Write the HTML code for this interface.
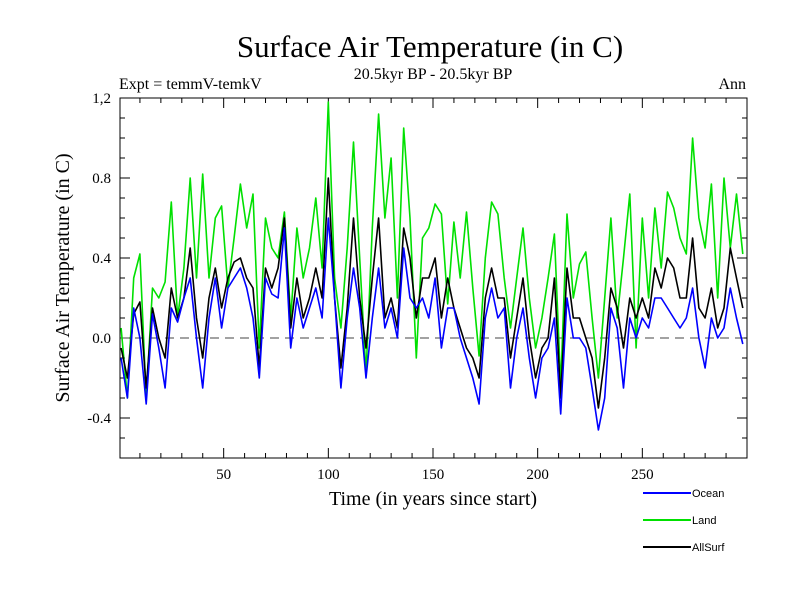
<!DOCTYPE html>
<html><head><meta charset="utf-8"><style>
body{margin:0;background:#fff}
svg{display:block}
</style></head><body>
<svg id="chart" width="800" height="600" xmlns="http://www.w3.org/2000/svg">
<rect width="800" height="600" fill="#fff"/>
<text x="430" y="57" font-family="Liberation Serif, serif" font-size="31" text-anchor="middle">Surface Air Temperature (in C)</text>
<text x="433" y="79" font-family="Liberation Serif, serif" font-size="16" text-anchor="middle">20.5kyr BP - 20.5kyr BP</text>
<text x="119" y="89" font-family="Liberation Serif, serif" font-size="16">Expt = temmV-temkV</text>
<text x="746" y="89" font-family="Liberation Serif, serif" font-size="16" text-anchor="end">Ann</text>
<text transform="translate(69,278) rotate(-90)" font-family="Liberation Serif, serif" font-size="20" text-anchor="middle">Surface Air Temperature (in C)</text>
<text x="433" y="505" font-family="Liberation Serif, serif" font-size="20" text-anchor="middle">Time (in years since start)</text>
<g id="axes"></g>
<g id="series"></g>
<rect x="120" y="98" width="627" height="360" fill="none" stroke="#000" stroke-width="1"/>
<g id="legend"></g>
</svg>
<script>
const years = [1,4,7,10,13,16,19,22,25,28,31,34,37,40,43,46,49,52,55,58,61,64,67,70,73,76,79,82,85,88,91,94,97,100,103,106,109,112,115,118,121,124,127,130,133,136,139,142,145,148,151,154,157,160,163,166,169,172,175,178,181,184,187,190,193,196,199,202,205,208,211,214,217,220,223,226,229,232,235,238,241,244,247,250,253,256,259,262,265,268,271,274,277,280,283,286,289,292,295,298];
const land = [0.05,-0.3,0.3,0.42,-0.3,0.25,0.2,0.28,0.68,0.1,0.35,0.8,0.3,0.82,0.3,0.6,0.66,0.25,0.5,0.77,0.55,0.72,-0.05,0.6,0.45,0.4,0.63,0.1,0.55,0.3,0.45,0.7,0.35,1.18,0.3,0.05,0.45,0.98,0.4,-0.18,0.55,1.12,0.6,0.9,0.2,1.05,0.6,-0.1,0.5,0.55,0.67,0.62,0.17,0.58,0.3,0.63,0.25,-0.09,0.4,0.68,0.62,0.3,0.05,0.3,0.55,0.2,-0.05,0.1,0.3,0.52,-0.24,0.62,0.2,0.37,0.43,0.1,-0.2,0.2,0.6,0.1,0.4,0.72,-0.05,0.6,0.2,0.65,0.35,0.73,0.65,0.5,0.42,1.0,0.6,0.45,0.77,0.2,0.8,0.45,0.72,0.42];
const ocean = [-0.1,-0.3,0.15,0.0,-0.33,0.12,-0.05,-0.25,0.15,0.08,0.2,0.3,0.0,-0.25,0.1,0.3,0.05,0.25,0.3,0.35,0.25,0.1,-0.2,0.3,0.22,0.2,0.55,-0.05,0.2,0.05,0.15,0.25,0.1,0.6,0.2,-0.25,0.1,0.35,0.15,-0.2,0.1,0.35,0.05,0.15,0.0,0.45,0.2,0.15,0.2,0.1,0.3,-0.05,0.15,0.15,0.0,-0.1,-0.2,-0.33,0.1,0.25,0.1,0.15,-0.25,0.0,0.15,-0.1,-0.3,-0.1,-0.05,0.1,-0.38,0.2,0.0,0.0,-0.05,-0.25,-0.46,-0.3,0.15,0.05,-0.25,0.1,0.0,0.1,0.05,0.2,0.2,0.15,0.1,0.05,0.1,0.25,0.0,-0.15,0.1,0.0,0.05,0.25,0.1,-0.03];
const allsurf = [-0.05,-0.2,0.12,0.18,-0.25,0.15,0.0,-0.1,0.25,0.1,0.2,0.45,0.1,-0.1,0.2,0.35,0.15,0.3,0.38,0.4,0.3,0.25,-0.15,0.35,0.25,0.35,0.6,0.05,0.3,0.1,0.2,0.35,0.2,0.8,0.2,-0.15,0.15,0.6,0.2,-0.05,0.3,0.6,0.1,0.2,0.05,0.55,0.4,0.1,0.3,0.3,0.4,0.1,0.3,0.15,0.05,-0.05,-0.1,-0.2,0.2,0.35,0.2,0.2,-0.1,0.1,0.3,0.0,-0.2,-0.05,0.0,0.3,-0.3,0.35,0.1,0.1,0.0,-0.1,-0.35,-0.1,0.25,0.15,-0.05,0.2,0.1,0.2,0.1,0.35,0.25,0.4,0.35,0.2,0.2,0.5,0.15,0.1,0.25,0.05,0.15,0.45,0.3,0.15];
const xTicks = [50,100,150,200,250];
const yTicks = [-0.4,0.0,0.4,0.8,1.2];
const yTickLabels = ["-0.4","0.0","0.4","0.8","1,2"];

const NS="http://www.w3.org/2000/svg";
const X0=120,X1=747,Y0=98,Y1=458;
const xS=v=>119+(v/300)*(747-119);
const yS=v=>338-v*200;
const axes=document.getElementById('axes');
function mk(tag,attrs,parent){const e=document.createElementNS(NS,tag);for(const k in attrs)e.setAttribute(k,attrs[k]);parent.appendChild(e);return e;}
for(let t=10;t<300;t+=10){
  const major=t%50===0, L=major?10:5, x=xS(t);
  const a=mk('line',{x1:x,x2:x,y1:Y1,y2:Y1-L,stroke:'#000'},axes);
  
  
  const b=mk('line',{x1:x,x2:x,y1:Y0,y2:Y0+L,stroke:'#000'},axes);
  
  
}
for(let i=-5;i<=11;i++){
  const v=i/10, major=(Math.round(v*10)%4===0), L=major?10:5, y=yS(v);
  const a=mk('line',{x1:X0,x2:X0+L,y1:y,y2:y,stroke:'#000'},axes);
  
  
  const b=mk('line',{x1:X1,x2:X1-L,y1:y,y2:y,stroke:'#000'},axes);
  
  
}
xTicks.forEach(t=>{
  const e=mk('text',{x:xS(t),y:479,'font-family':'Liberation Serif, serif','font-size':15,'text-anchor':'middle'},axes);
  e.textContent=t;
  
  
});
yTicks.forEach((t,i)=>{
  const e=mk('text',{x:111,y:yS(t)+5,'font-family':'Liberation Serif, serif','font-size':15,'text-anchor':'end'},axes);
  e.textContent=yTickLabels[i];
  
  
});
const zl=mk('line',{x1:X0,x2:X1,y1:yS(0),y2:yS(0),stroke:'#444','stroke-dasharray':'9,6'},axes);



const ser=document.getElementById('series');
function draw(vals,color,name){
  const d=vals.map((v,i)=>(i?'L':'M')+xS(years[i]).toFixed(1)+','+yS(v).toFixed(1)).join('');
  const p=mk('path',{d:d,fill:'none',stroke:color,'stroke-width':1.6,'stroke-linejoin':'round'},ser);
  
  
}
draw(land,'#00e000','land-line');
draw(allsurf,'#000','allsurf-line');
draw(ocean,'#0000ff','ocean-line');

const leg=document.getElementById('legend');
[['Ocean','#0000ff',493],['Land','#00e000',520],['AllSurf','#000',547]].forEach(([n,c,y])=>{
  const g=mk('g',{},leg);
  
  
  mk('line',{x1:643,x2:691,y1:y,y2:y,stroke:c,'stroke-width':2},g);
  const t=mk('text',{x:692,y:y+4,'font-family':'Liberation Sans, sans-serif','font-size':11},g);
  t.textContent=n;
});
</script>
</body></html>
